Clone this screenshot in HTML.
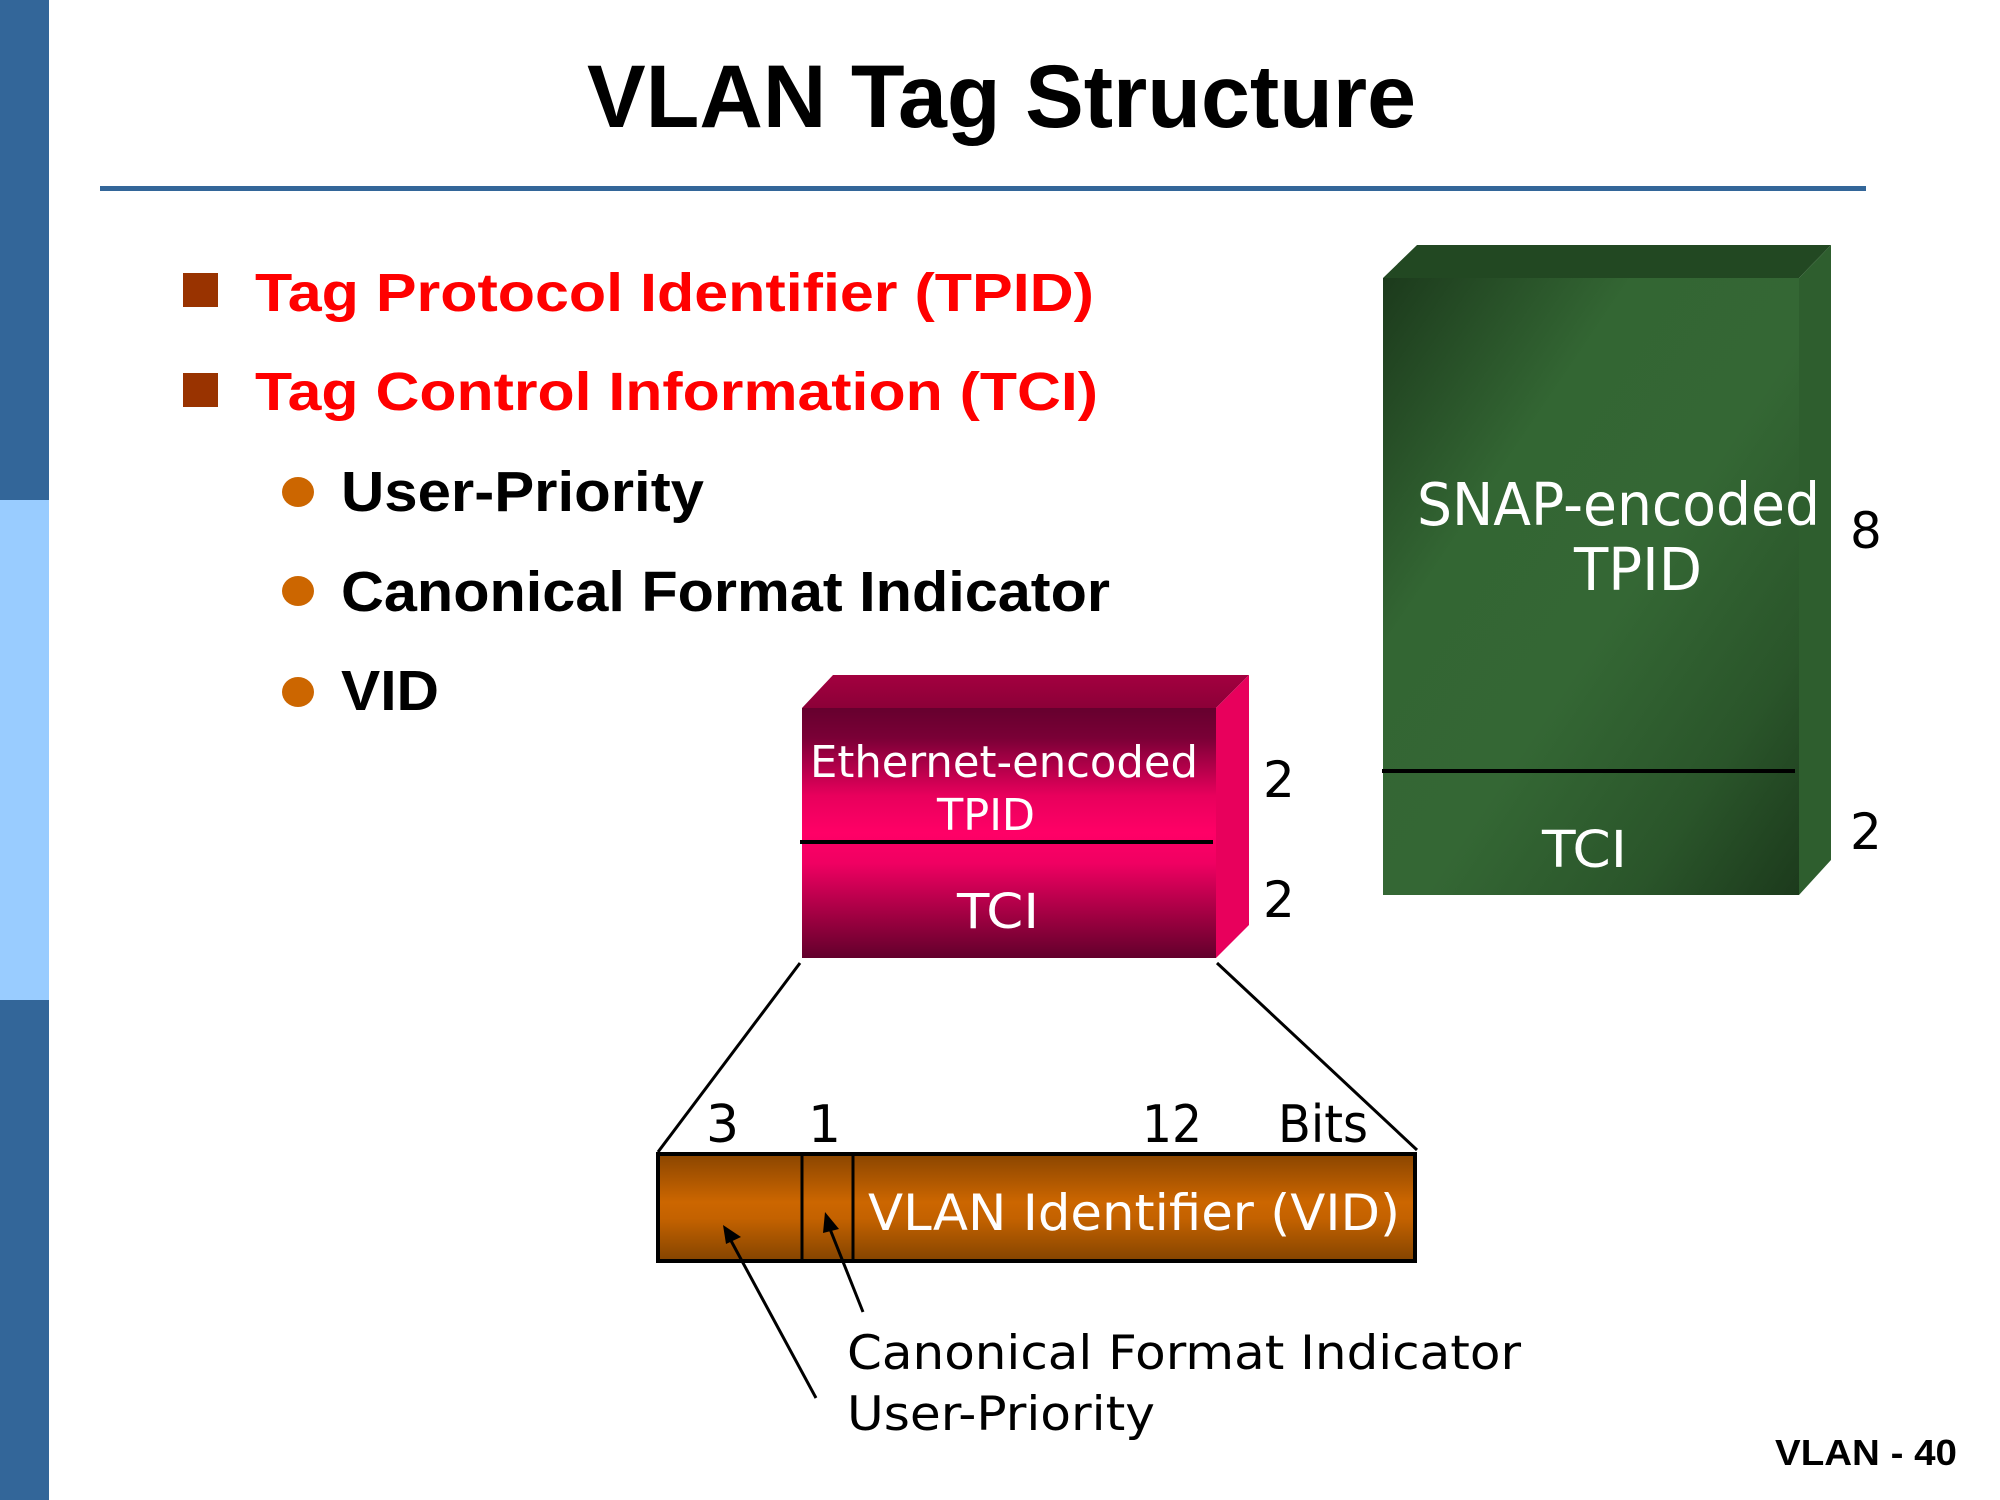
<!DOCTYPE html>
<html>
<head>
<meta charset="utf-8">
<style>
html,body{margin:0;padding:0;background:#fff;}
body{width:2000px;height:1500px;overflow:hidden;}
svg{display:block;}
</style>
</head>
<body>
<svg width="2000" height="1500" viewBox="0 0 2000 1500" xmlns="http://www.w3.org/2000/svg">
<defs>
  <linearGradient id="pinkFront" x1="0" y1="0" x2="0" y2="1">
    <stop offset="0" stop-color="#66002e"/>
    <stop offset="0.12" stop-color="#7a0036"/>
    <stop offset="0.35" stop-color="#e8005c"/>
    <stop offset="0.5" stop-color="#ff0066"/>
    <stop offset="0.62" stop-color="#f00062"/>
    <stop offset="0.85" stop-color="#99003f"/>
    <stop offset="1" stop-color="#62002c"/>
  </linearGradient>
  <linearGradient id="pinkTop" x1="0" y1="0" x2="0" y2="1">
    <stop offset="0" stop-color="#a3003f"/>
    <stop offset="1" stop-color="#8c0038"/>
  </linearGradient>
  <linearGradient id="greenFront" x1="0" y1="0" x2="1" y2="1">
    <stop offset="0" stop-color="#1c3a1c"/>
    <stop offset="0.3" stop-color="#336633"/>
    <stop offset="0.55" stop-color="#346734"/>
    <stop offset="0.8" stop-color="#2a552a"/>
    <stop offset="1" stop-color="#1c3a1c"/>
  </linearGradient>
  <linearGradient id="orangeBar" x1="0" y1="0" x2="0" y2="1">
    <stop offset="0" stop-color="#8a4500"/>
    <stop offset="0.45" stop-color="#cc6600"/>
    <stop offset="0.6" stop-color="#c46200"/>
    <stop offset="1" stop-color="#844400"/>
  </linearGradient>
</defs>

<!-- left bar -->
<rect x="0" y="0" width="49" height="500" fill="#336699"/>
<rect x="0" y="500" width="49" height="500" fill="#99ccff"/>
<rect x="0" y="1000" width="49" height="500" fill="#336699"/>

<!-- title -->
<text x="587" y="127" font-family="Liberation Sans, sans-serif" font-weight="bold" font-size="89" fill="#000" textLength="829" lengthAdjust="spacingAndGlyphs">VLAN Tag Structure</text>
<rect x="100" y="186" width="1766" height="5" fill="#336699"/>

<!-- bullets -->
<rect x="183" y="273" width="35" height="34" fill="#993300"/>
<text x="255" y="311" font-family="Liberation Sans, sans-serif" font-weight="bold" font-size="54" fill="#ff0000" textLength="839" lengthAdjust="spacingAndGlyphs">Tag Protocol Identifier (TPID)</text>
<rect x="183" y="373" width="35" height="34" fill="#993300"/>
<text x="255" y="410" font-family="Liberation Sans, sans-serif" font-weight="bold" font-size="54" fill="#ff0000" textLength="843" lengthAdjust="spacingAndGlyphs">Tag Control Information (TCI)</text>

<ellipse cx="298" cy="492" rx="16" ry="15" fill="#cc6600"/>
<text x="341" y="511" font-family="Liberation Sans, sans-serif" font-weight="bold" font-size="57" fill="#000" textLength="363" lengthAdjust="spacingAndGlyphs">User-Priority</text>
<ellipse cx="298" cy="591" rx="16" ry="15" fill="#cc6600"/>
<text x="341" y="611" font-family="Liberation Sans, sans-serif" font-weight="bold" font-size="57" fill="#000" textLength="769" lengthAdjust="spacingAndGlyphs">Canonical Format Indicator</text>
<ellipse cx="298" cy="692" rx="16" ry="15" fill="#cc6600"/>
<text x="341" y="710" font-family="Liberation Sans, sans-serif" font-weight="bold" font-size="57" fill="#000" textLength="98" lengthAdjust="spacingAndGlyphs">VID</text>

<!-- green box -->
<polygon points="1383,278 1417,245 1831,245 1799,278" fill="#224822"/>
<polygon points="1799,278 1831,245 1831,860 1799,895" fill="#2e5e2e"/>
<rect x="1383" y="278" width="416" height="617" fill="url(#greenFront)"/>
<rect x="1382" y="769" width="413" height="4" fill="#000"/>
<text x="1417" y="525" font-family="DejaVu Sans, Verdana, sans-serif" font-size="59" fill="#fff" textLength="403" lengthAdjust="spacingAndGlyphs">SNAP-encoded</text>
<text x="1574" y="590" font-family="DejaVu Sans, Verdana, sans-serif" font-size="59" fill="#fff" textLength="128" lengthAdjust="spacingAndGlyphs">TPID</text>
<text x="1542" y="867" font-family="DejaVu Sans, Verdana, sans-serif" font-size="51" fill="#fff" textLength="85" lengthAdjust="spacingAndGlyphs">TCI</text>
<text x="1850" y="548" font-family="DejaVu Sans, Verdana, sans-serif" font-size="50" fill="#000">8</text>
<text x="1850" y="849" font-family="DejaVu Sans, Verdana, sans-serif" font-size="50" fill="#000">2</text>

<!-- pink box -->
<polygon points="802,708 833,675 1249,675 1216,708" fill="url(#pinkTop)"/>
<polygon points="1216,708 1249,675 1249,925 1216,958" fill="#e8005c"/>
<rect x="802" y="708" width="414" height="250" fill="url(#pinkFront)"/>
<rect x="800" y="840" width="413" height="4" fill="#000"/>
<text x="810" y="777" font-family="DejaVu Sans, Verdana, sans-serif" font-size="44" fill="#fff" textLength="388" lengthAdjust="spacingAndGlyphs">Ethernet-encoded</text>
<text x="937" y="830" font-family="DejaVu Sans, Verdana, sans-serif" font-size="44" fill="#fff" textLength="98" lengthAdjust="spacingAndGlyphs">TPID</text>
<text x="957" y="928" font-family="DejaVu Sans, Verdana, sans-serif" font-size="48" fill="#fff" textLength="82" lengthAdjust="spacingAndGlyphs">TCI</text>
<text x="1263" y="797" font-family="DejaVu Sans, Verdana, sans-serif" font-size="50" fill="#000">2</text>
<text x="1263" y="917" font-family="DejaVu Sans, Verdana, sans-serif" font-size="50" fill="#000">2</text>

<!-- expansion lines -->
<line x1="800" y1="963" x2="658" y2="1152" stroke="#000" stroke-width="3"/>
<line x1="1217" y1="963" x2="1417" y2="1150" stroke="#000" stroke-width="3"/>

<!-- bits labels -->
<text x="706" y="1142" font-family="DejaVu Sans, Verdana, sans-serif" font-size="52" fill="#000">3</text>
<text x="808" y="1142" font-family="DejaVu Sans, Verdana, sans-serif" font-size="52" fill="#000">1</text>
<text x="1142" y="1142" font-family="DejaVu Sans, Verdana, sans-serif" font-size="52" fill="#000" textLength="60" lengthAdjust="spacingAndGlyphs">12</text>
<text x="1278" y="1142" font-family="DejaVu Sans, Verdana, sans-serif" font-size="52" fill="#000" textLength="90" lengthAdjust="spacingAndGlyphs">Bits</text>

<!-- TCI bar -->
<rect x="658" y="1154" width="757" height="107" fill="url(#orangeBar)" stroke="#000" stroke-width="4"/>
<rect x="800.5" y="1154" width="3" height="107" fill="#000"/>
<rect x="851.5" y="1154" width="3" height="107" fill="#000"/>
<text x="868" y="1230" font-family="DejaVu Sans, Verdana, sans-serif" font-size="50" fill="#fff" textLength="532" lengthAdjust="spacingAndGlyphs">VLAN Identifier (VID)</text>

<!-- arrows -->
<line x1="816" y1="1398" x2="729" y2="1237" stroke="#000" stroke-width="3"/>
<polygon points="723,1225 741,1237 726,1244" fill="#000"/>
<line x1="863" y1="1312" x2="828" y2="1224" stroke="#000" stroke-width="3"/>
<polygon points="825,1212 839,1229 823,1233" fill="#000"/>

<!-- bottom labels -->
<text x="847" y="1369" font-family="DejaVu Sans, Verdana, sans-serif" font-size="47" fill="#000" textLength="674" lengthAdjust="spacingAndGlyphs">Canonical Format Indicator</text>
<text x="847" y="1430" font-family="DejaVu Sans, Verdana, sans-serif" font-size="47" fill="#000" textLength="308" lengthAdjust="spacingAndGlyphs">User-Priority</text>

<!-- footer -->
<text x="1775" y="1465" font-family="Liberation Sans, Arial, sans-serif" font-weight="bold" font-size="36" fill="#000" textLength="182" lengthAdjust="spacingAndGlyphs">VLAN - 40</text>
</svg>
</body>
</html>
